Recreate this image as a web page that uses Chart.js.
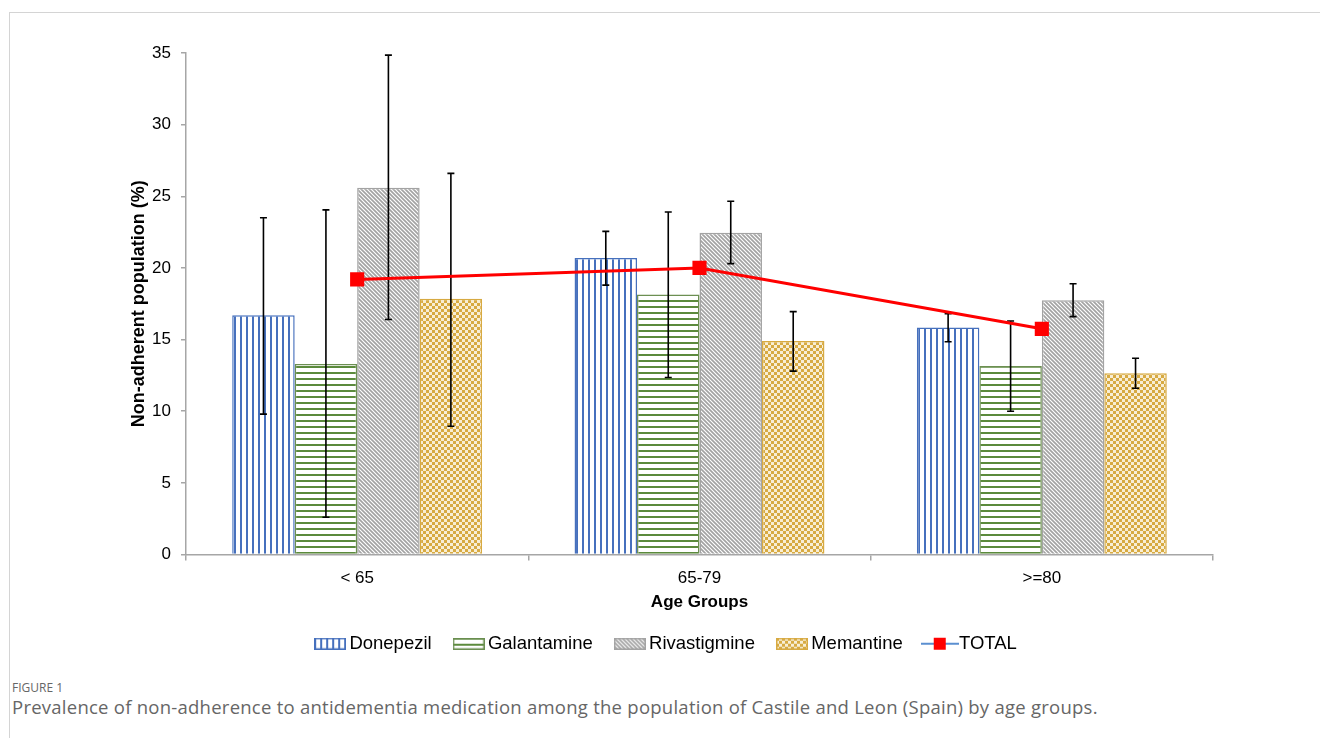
<!DOCTYPE html>
<html>
<head>
<meta charset="utf-8">
<script src="https://cdn.jsdelivr.net/npm/chart.js@4.4.0/dist/chart.umd.min.js"></script>
<style>
  body { margin: 0; background: #fff; }
  #frame { position: absolute; left: 9px; top: 12px; width: 1311px; height: 726px;
           border-top: 1px solid #d4d4d4; border-left: 1px solid #d4d4d4; }
  #chart { position: absolute; left: 0; top: 0; }
  #fig { position: absolute; left: 12px; top: 679px; font: 12px "Open Sans", sans-serif; color: #666; }
  #cap { position: absolute; left: 12px; top: 694px; font: 18.5px "Open Sans", sans-serif; letter-spacing: 0.25px; color: #666; }
</style>
</head>
<body>
<div id="frame"></div>
<canvas id="chart" width="1320" height="670"></canvas>
<div id="fig">FIGURE 1</div>
<div id="cap">Prevalence of non-adherence to antidementia medication among the population of Castile and Leon (Spain) by age groups.</div>
<script>
var categories = ['< 65', '65-79', '>=80'];

var donepezil = [16.7, 20.7, 15.85];
var galantamine = [13.3, 18.15, 13.15];
var rivastigmine = [25.6, 22.45, 17.75];
var memantine = [17.85, 14.9, 12.65];
var total = [19.2, 20.0, 15.75];

// error bar limits
var donepezilLow = [9.8, 18.8, 14.85];
var donepezilHigh = [23.5, 22.55, 16.8];
var galantamineLow = [2.6, 12.35, 10.0];
var galantamineHigh = [24.05, 23.9, 16.3];
var rivastigmineLow = [16.4, 20.3, 16.6];
var rivastigmineHigh = [34.85, 24.65, 18.9];
var memantineLow = [8.95, 12.8, 11.6];
var memantineHigh = [26.6, 16.95, 13.7];

var yTicks = [0, 5, 10, 15, 20, 25, 30, 35];

function tile(w, h, draw) {
    var c = document.createElement('canvas');
    c.width = w; c.height = h;
    var x = c.getContext('2d');
    x.fillStyle = '#fff';
    x.fillRect(0, 0, w, h);
    draw(x, w, h);
    return c;
}

var ctx0 = document.createElement('canvas').getContext('2d');

var tiles = {
    vert: tile(6, 6, function (x) { x.fillStyle = '#4670bd'; x.fillRect(0, 0, 2, 6); }),
    horiz: tile(6, 6, function (x) { x.fillStyle = '#5b8a3c'; x.fillRect(0, 0, 6, 2); }),
    diag: tile(8, 8, function (x) {
        x.strokeStyle = '#a3a3a3'; x.lineWidth = 1.7;
        x.beginPath();
        for (var o = -8; o <= 8; o += 4) { x.moveTo(o - 1, -1); x.lineTo(o + 9, 9); }
        x.stroke();
    }),
    check: tile(6, 6, function (x) {
        x.fillStyle = '#f8eed5'; x.fillRect(0, 0, 6, 6);
        x.fillStyle = '#d7aa42'; x.fillRect(0, 0, 3, 3); x.fillRect(3, 3, 3, 3);
    })
};

function pat(t) { return ctx0.createPattern(t, 'repeat'); }

function legendBox(t, border) {
    var c = document.createElement('canvas');
    c.width = 32; c.height = 12;
    var x = c.getContext('2d');
    x.fillStyle = x.createPattern(t, 'repeat');
    x.fillRect(0, 0, 32, 12);
    x.strokeStyle = border; x.lineWidth = 1.5;
    x.strokeRect(0.75, 0.75, 30.5, 10.5);
    return c;
}

function legendLine() {
    var c = document.createElement('canvas');
    c.width = 38; c.height = 14;
    var x = c.getContext('2d');
    x.strokeStyle = '#5b8fd0'; x.lineWidth = 2;
    x.beginPath(); x.moveTo(0, 7); x.lineTo(38, 7); x.stroke();
    x.fillStyle = '#ff0000';
    x.fillRect(13, 1, 12, 12);
    return c;
}

var errorBars = {
    id: 'errorBars',
    afterDatasetDraw: function (chart, args) {
        var ds = chart.data.datasets[args.index];
        if (!ds.errLow) return;
        var ctx = chart.ctx, y = chart.scales.y;
        ctx.save();
        ctx.strokeStyle = '#000';
        ctx.lineWidth = 1.6;
        args.meta.data.forEach(function (bar, j) {
            var x = bar.x;
            var yl = y.getPixelForValue(ds.errLow[j]);
            var yh = y.getPixelForValue(ds.errHigh[j]);
            ctx.beginPath();
            ctx.moveTo(x, yl); ctx.lineTo(x, yh);
            ctx.moveTo(x - 3.5, yl); ctx.lineTo(x + 3.5, yl);
            ctx.moveTo(x - 3.5, yh); ctx.lineTo(x + 3.5, yh);
            ctx.stroke();
        });
        ctx.restore();
    }
};

function barSet(label, data, t, border, lo, hi) {
    return {
        type: 'bar', label: label, data: data, order: 1,
        backgroundColor: pat(t), borderColor: border, borderWidth: 1.5,
        categoryPercentage: 0.73, barPercentage: 1.0,
        errLow: lo, errHigh: hi,
        legendIcon: legendBox(t, border)
    };
}

Chart.defaults.font.family = '"Liberation Sans", Arial, sans-serif';
Chart.defaults.color = '#000';

new Chart(document.getElementById('chart'), {
    data: {
        labels: categories,
        datasets: [
            barSet('Donepezil', donepezil, tiles.vert, '#4670bd', donepezilLow, donepezilHigh),
            barSet('Galantamine', galantamine, tiles.horiz, '#6c8f52', galantamineLow, galantamineHigh),
            barSet('Rivastigmine', rivastigmine, tiles.diag, '#a3a3a3', rivastigmineLow, rivastigmineHigh),
            barSet('Memantine', memantine, tiles.check, '#d7aa42', memantineLow, memantineHigh),
            {
                type: 'line', label: 'TOTAL', data: total, order: 0,
                borderColor: '#ff0000', borderWidth: 3,
                pointStyle: 'rect', pointRadius: 10, pointBackgroundColor: '#ff0000',
                pointBorderWidth: 0, legendIcon: legendLine()
            }
        ]
    },
    options: {
        responsive: false,
        animation: false,
        devicePixelRatio: 1,
        layout: { padding: { left: 124, right: 107, top: 53, bottom: 7 } },
        plugins: {
            tooltip: { enabled: false },
            legend: {
                position: 'bottom',
                labels: {
                    usePointStyle: true,
                    pointStyleWidth: 20,
                    padding: 27,
                    font: { size: 18.5 },
                    color: '#000',
                    sort: function (a, b) { return a.datasetIndex - b.datasetIndex; },
                    generateLabels: function (chart) {
                        return chart.data.datasets.map(function (ds, i) {
                            return { text: ds.label, pointStyle: ds.legendIcon, datasetIndex: i,
                                     fillStyle: '#fff', strokeStyle: '#fff', lineWidth: 0, hidden: false };
                        });
                    }
                }
            }
        },
        scales: {
            x: {
                grid: { drawOnChartArea: false, drawTicks: true, tickLength: 6, color: '#a6a6a6', lineWidth: 1.5, offset: true },
                border: { color: '#a6a6a6', width: 1.5 },
                ticks: { font: { size: 17 }, color: '#000', padding: 8 },
                title: { display: true, text: 'Age Groups', font: { size: 17, weight: 'bold' }, color: '#000', padding: { top: 0, bottom: -5 } },
                afterFit: function (s) { s.height = 53; }
            },
            y: {
                min: 0, max: 35,
                afterBuildTicks: function (s) { s.ticks = yTicks.map(function (v) { return { value: v }; }); },
                grid: { drawOnChartArea: false, tickLength: 5, color: '#a6a6a6', lineWidth: 1.5 },
                border: { color: '#a6a6a6', width: 1.5 },
                ticks: { font: { size: 17 }, color: '#000', padding: 10 },
                title: { display: true, text: 'Non-adherent population (%)', font: { size: 18, weight: 'bold' }, color: '#000' },
                afterFit: function (s) { s.width = 62; }
            }
        }
    },
    plugins: [errorBars]
});
</script>
</body>
</html>
